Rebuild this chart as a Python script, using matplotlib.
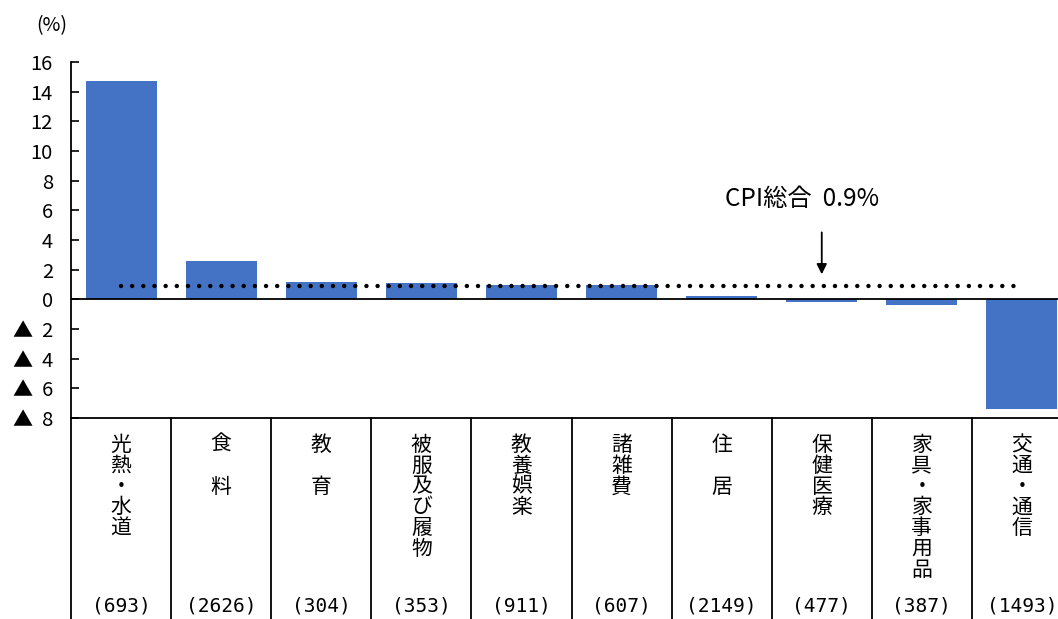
import matplotlib
matplotlib.use("Agg")
import matplotlib.pyplot as plt
import matplotlib.transforms as mtransforms
from matplotlib import font_manager

plt.rcParams['font.family'] = ['Noto Sans CJK JP', 'DejaVu Sans']

categories = ["光熱・水道", "食 料", "教 育", "被服及び履物", "教養娯楽", "諸雑費",
              "住 居", "保健医療", "家具・家事用品", "交通・通信"]
weights = ["(693)", "(2626)", "(304)", "(353)", "(911)", "(607)",
           "(2149)", "(477)", "(387)", "(1493)"]
values = [14.7, 2.6, 1.2, 1.1, 0.95, 1.0, 0.2, -0.2, -0.4, -7.4]
cpi_total = 0.9
cpi_label = "CPI総合  0.9%"
yticks = [16, 14, 12, 10, 8, 6, 4, 2, 0, -2, -4, -6, -8]
yticklabels = ["16", "14", "12", "10", "8", "6", "4", "2", "0", "▲  2", "▲  4", "▲  6", "▲  8"]

names = {f.name for f in font_manager.fontManager.ttflist}
num_family = ['Liberation Sans Narrow', 'Noto Sans CJK JP'] if 'Liberation Sans Narrow' in names \
    else ['Noto Sans CJK JP', 'DejaVu Sans']

fig = plt.figure(figsize=(10.58, 6.19), dpi=100)
ax = fig.add_axes([71/1058, 1-418/619, 1001/1058, (418-62)/619])

x = list(range(len(categories)))
ax.bar(x, values, width=0.71, color="#4472C4", zorder=2)
ax.axhline(0, color="black", lw=1.3, zorder=3)
ax.plot([x[0], x[-1]], [cpi_total, cpi_total], color="black", lw=3.2,
        linestyle=(0, (0.01, 2.5)), dash_capstyle="round", zorder=4)

ax.set_xlim(-0.5, len(categories) - 0.5)
ax.set_ylim(-8, 16)
ax.set_yticks(yticks)
ax.set_yticklabels(yticklabels, fontsize=14.5, family=num_family)
ax.tick_params(axis="y", direction="in", length=6, width=1.2, pad=13)
ax.set_xticks([])
for s in ["top", "right"]:
    ax.spines[s].set_visible(False)
ax.spines["left"].set_linewidth(1.3)
ax.spines["bottom"].set_linewidth(1.3)

fig.text(52/1058, 1 - 26/619, "(%)", fontsize=14, ha="center", va="center")

# CPI annotation
ax.annotate("", xy=(7, 1.5), xytext=(7, 4.7),
            arrowprops=dict(arrowstyle="-|>", color="black", lw=1.3, mutation_scale=15))
ax.text(6.8, 6.75, cpi_label, fontsize=17.5, ha="center", va="center")

# Label table under the axes
trans = mtransforms.blended_transform_factory(ax.transData, fig.transFigure)
ax_bottom = 1 - 418/619
for b in [i + 0.5 for i in range(len(categories) - 1)] + [-0.5]:
    ax.plot([b, b], [0, ax_bottom], transform=trans, color="black", lw=1.3, clip_on=False)

pitch = 20.8 / 619
top_y = 1 - 445/619
for i, (cat, w) in enumerate(zip(categories, weights)):
    for j, ch in enumerate(cat):
        if ch == " ":
            continue
        ax.text(i, top_y - j * pitch, ch, transform=trans, fontsize=15,
                ha="center", va="center", clip_on=False)
    ax.text(i, 1 - 606/619, w, transform=trans, fontsize=14, family="DejaVu Sans Mono",
            ha="center", va="center", clip_on=False)

fig.savefig("out.png", dpi=100)
